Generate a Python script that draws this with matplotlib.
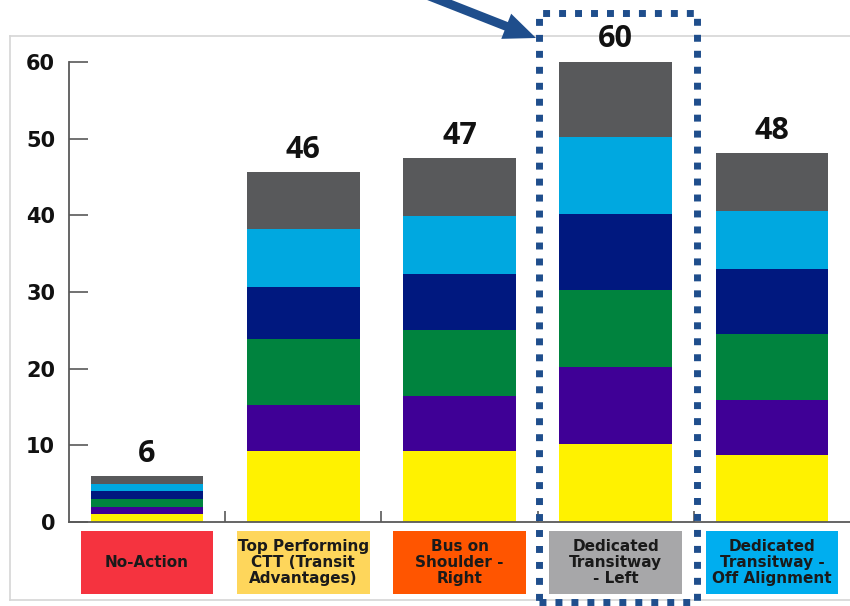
import matplotlib
matplotlib.use("Agg")
import matplotlib.pyplot as plt
from matplotlib.patches import Rectangle, FancyArrow
from matplotlib.transforms import IdentityTransform, blended_transform_factory
from matplotlib.lines import Line2D
import numpy as np

categories = ["No-Action", "Top Performing\nCTT (Transit\nAdvantages)", "Bus on\nShoulder -\nRight",
              "Dedicated\nTransitway\n- Left", "Dedicated\nTransitway -\nOff Alignment"]
totals = [6, 46, 47, 60, 48]
seg_yellow = [1.0, 9.2, 9.2, 10.2, 8.7]
seg_purple = [1.0, 6.0, 7.2, 10.0, 7.2]
seg_green = [1.0, 8.7, 8.7, 10.0, 8.6]
seg_navy = [1.0, 6.7, 7.3, 10.0, 8.5]
seg_lblue = [1.0, 7.65, 7.55, 10.0, 7.6]
seg_gray = [1.05, 7.45, 7.55, 9.9, 7.5]
yticks = [0, 10, 20, 30, 40, 50, 60]

seg_colors = ["#FFF200", "#3F0096", "#00833E", "#00187F", "#00A8E0", "#58595B"]
box_colors = ["#F5333F", "#FED65B", "#FF5500", "#A7A7A9", "#00AEEF"]

W, H = 850, 606
fig = plt.figure(figsize=(W / 100, H / 100), dpi=100)
fig.patch.set_facecolor("white")

# light gray frame
frame_c = "#D6D6D6"
for xs, ys in [([10, 850], [H - 36, H - 36]), ([10, 10], [H - 36, H - 600]), ([10, 850], [H - 600, H - 600])]:
    fig.add_artist(Line2D(xs, ys, transform=IdentityTransform(), color=frame_c, lw=1.2, zorder=-5))

ax = fig.add_axes([69 / W, (H - 522) / H, (W - 69) / W, 460 / H])
ax.set_facecolor("none")
x = np.arange(len(categories))
bottom = np.zeros(len(categories))
for seg, c in zip([seg_yellow, seg_purple, seg_green, seg_navy, seg_lblue, seg_gray], seg_colors):
    ax.bar(x, seg, width=0.72, bottom=bottom, color=c, edgecolor="none")
    bottom += np.array(seg)

for xi, b, t in zip(x, bottom, totals):
    ax.annotate(str(t), (xi, b), xytext=(0, 5), textcoords="offset points", ha="center", va="bottom",
                fontsize=22, fontweight="bold", family=["Open Sans", "DejaVu Sans"], color="#111111",
                annotation_clip=False)

ax.set_xlim(-0.5, 4.5)
ax.set_ylim(0, 60)
ax.set_yticks(yticks)
ax.set_yticklabels([str(v) for v in yticks], fontsize=15, fontweight="bold", color="#111111")
ax.tick_params(axis="y", direction="in", length=13.5, width=1.2, color="#595959", pad=10)
ax.set_xticks([])
ax.set_xticks([0.5, 1.5, 2.5, 3.5], minor=True)
ax.tick_params(axis="x", which="minor", direction="in", length=8, width=1.2, color="#595959")
for s in ["top", "right"]:
    ax.spines[s].set_visible(False)
for s in ["left", "bottom"]:
    ax.spines[s].set_color("#595959")
    ax.spines[s].set_linewidth(1.3)

# category label boxes
tr = blended_transform_factory(ax.transData, ax.transAxes)
y0 = (522 - 594) / 460
y1 = (522 - 531) / 460
bw = 0.85
for xi, lab, c in zip(x, categories, box_colors):
    ax.add_patch(Rectangle((xi - bw / 2, y0), bw, y1 - y0, transform=tr, facecolor=c,
                           edgecolor="none", clip_on=False))
    ax.text(xi, (y0 + y1) / 2, lab, transform=tr, ha="center", va="center", fontsize=11,
            fontweight="bold", color="#1A1A1A", linespacing=1.1, clip_on=False)

# dotted highlight box and arrow
hl = "#1F4E8C"
fig.add_artist(Rectangle((539, H - 602), 158, 589, transform=IdentityTransform(), fill=False,
                         edgecolor=hl, lw=5, linestyle=(0, (1, 1.3))))
tip = np.array([536.0, H - 38.0])
d = np.array([0.93, -0.366])
d = d / np.linalg.norm(d)
tail = tip - d * 135
fig.add_artist(FancyArrow(tail[0], tail[1], (tip - tail)[0], (tip - tail)[1], width=9,
                          head_width=27, head_length=32, length_includes_head=True,
                          transform=IdentityTransform(), color=hl, lw=0))

fig.savefig("out.png", dpi=100, facecolor="white")
